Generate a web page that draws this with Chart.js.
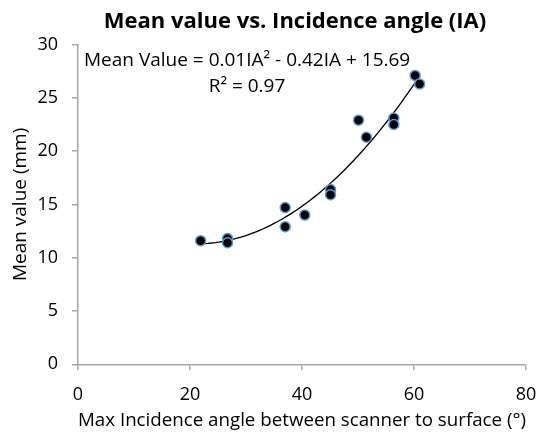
<!DOCTYPE html>
<html>
<head>
<meta charset="utf-8">
<script src="https://cdn.jsdelivr.net/npm/chart.js@4.4.1/dist/chart.umd.min.js"></script>
<style>
  html, body { margin: 0; padding: 0; background: #fff; }
  #wrap { width: 539px; height: 433px; }
</style>
</head>
<body>
<div id="wrap"><canvas id="chart" width="539" height="433"></canvas></div>
<script>
const angles = [21.9, 26.7, 26.7, 37.0, 37.0, 40.5, 45.1, 45.1, 50.1, 51.5, 56.4, 56.4, 60.2, 61.0];
const means  = [11.6, 11.8, 11.4, 14.7, 12.9, 14.0, 16.4, 15.9, 22.9, 21.3, 23.1, 22.5, 27.1, 26.3];
const xTicks = [0, 20, 40, 60, 80];
const yTicks = [0, 5, 10, 15, 20, 25, 30];
const titleText = "Mean value vs. Incidence angle (IA)";
const eqText = "Mean Value = 0.01IA\u00B2 - 0.42IA + 15.69";
const r2Text = "R\u00B2 = 0.97";

const FONT = "'Open Sans', 'Liberation Sans', sans-serif";

// least squares quadratic fit of the points, like the excel trendline
function quadFit(xs, ys){
  let s = [0,0,0,0,0], t = [0,0,0];
  for (let i = 0; i < xs.length; i++){
    let p = 1;
    for (let k = 0; k < 5; k++){ s[k] += p; if (k < 3) t[k] += p * ys[i]; p *= xs[i]; }
  }
  const m = [[s[0],s[1],s[2],t[0]],[s[1],s[2],s[3],t[1]],[s[2],s[3],s[4],t[2]]];
  for (let i = 0; i < 3; i++){
    for (let j = i+1; j < 3; j++){
      const f = m[j][i] / m[i][i];
      for (let k = i; k < 4; k++) m[j][k] -= f * m[i][k];
    }
  }
  const c = [0,0,0];
  for (let i = 2; i >= 0; i--){
    let v = m[i][3];
    for (let k = i+1; k < 3; k++) v -= m[i][k] * c[k];
    c[i] = v / m[i][i];
  }
  return c;
}

const coef = quadFit(angles, means);
const xMin = Math.min(...angles), xMax = Math.max(...angles);
const trend = [];
for (let i = 0; i <= 60; i++){
  const x = xMin + (xMax - xMin) * i / 60;
  trend.push({ x: x, y: coef[0] + coef[1]*x + coef[2]*x*x });
}

// title and the trendline label, placed like in excel
const labelPlugin = {
  id: "eqLabel",
  afterDatasetsDraw(chart){
    const ctx = chart.ctx;
    ctx.save();
    ctx.fillStyle = "#000";
    ctx.textBaseline = "middle";
    ctx.textAlign = "center";
    ctx.font = "bold 22px " + FONT;
    ctx.fillText(titleText, 295, 22);
    ctx.font = "19px " + FONT;
    ctx.textBaseline = "alphabetic";
    ctx.textAlign = "left";
    ctx.fillText(eqText, 84, 66);
    ctx.textAlign = "center";
    ctx.fillText(r2Text, 247, 92);
    ctx.restore();
  }
};

const axisStyle = {
  border: { color: "#a6a6a6", width: 1.5 },
  grid: { drawOnChartArea: false, color: "#a6a6a6", tickLength: 6, lineWidth: 1.5 },
};

new Chart(document.getElementById("chart"), {
  type: "scatter",
  data: {
    datasets: [
      {
        data: angles.map((a, i) => ({ x: a, y: means[i] })),
        backgroundColor: "#000",
        borderColor: "#5b9bd5",
        borderWidth: 1.5,
        pointRadius: 5,
        order: 1
      },
      {
        type: "line",
        data: trend,
        borderColor: "#000",
        borderWidth: 1.3,
        pointRadius: 0,
        fill: false,
        order: 2
      }
    ]
  },
  options: {
    responsive: false,
    animation: false,
    layout: { padding: { top: 44.5, right: 13, left: 0, bottom: 0 } },
    plugins: {
      legend: { display: false },
      tooltip: { enabled: false },
      title: { display: false }
    },
    scales: {
      x: {
        type: "linear",
        min: xTicks[0], max: xTicks[xTicks.length-1],
        afterBuildTicks: s => { s.ticks = xTicks.map(v => ({ value: v })); },
        afterFit: s => { s.height = 68.7; s.paddingLeft = 0; s.paddingRight = 0; },
        ...axisStyle,
        ticks: { color: "#000", font: { family: FONT, size: 18 }, padding: 14 },
        title: {
          display: true,
          text: "Max Incidence angle between scanner to surface (\u00B0)",
          color: "#000",
          font: { family: FONT, size: 19 },
          padding: { top: 1, bottom: 1 }
        }
      },
      y: {
        type: "linear",
        min: yTicks[0], max: yTicks[yTicks.length-1],
        afterBuildTicks: s => { s.ticks = yTicks.map(v => ({ value: v })); },
        afterFit: s => { s.width = 78; s.paddingTop = 0; s.paddingBottom = 0; },
        ...axisStyle,
        ticks: { color: "#000", font: { family: FONT, size: 18 }, padding: 14 },
        title: {
          display: true,
          text: "Mean value (mm)",
          color: "#000",
          font: { family: FONT, size: 19 },
          padding: { top: 9, bottom: 0 }
        }
      }
    }
  },
  plugins: [labelPlugin]
});
</script>
</body>
</html>
